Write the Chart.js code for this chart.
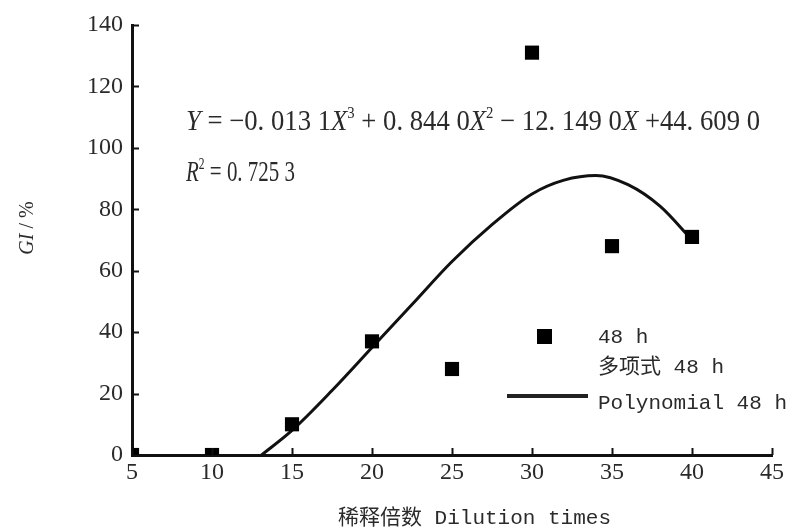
<!DOCTYPE html>
<html><head><meta charset="utf-8">
<script src="https://cdn.jsdelivr.net/npm/chart.js@4.4.0/dist/chart.umd.min.js"></script>
<style>html,body{margin:0;padding:0;background:#fff}#wrap{width:792px;height:531px;position:relative}</style>
</head><body><div id="wrap"><canvas id="c"></canvas></div>
<script>
// ---- data ----
const dilution = [5, 10, 15, 20, 25, 30, 35, 40];
const gi48 = [0, 0, 10, 37, 28, 131, 68, 71];
// fitted polynomial curve
const fitX = [13.1, 15, 17.5, 20, 22.5, 25, 27.5, 30, 32, 34, 36, 38, 40];
const fitY = [0, 8, 21, 35, 49, 63, 75, 85, 89.5, 91, 88, 81, 70];
const xTicks = [5, 10, 15, 20, 25, 30, 35, 40, 45];
const yTicks = [0, 20, 40, 60, 80, 100, 120, 140];
const xTitle = '稀释倍数 Dilution times';
const yTitleParts = [{t:'GI', it:true}, {t:' / %'}];
const legendPointLabel = '48 h';
const legendFitLabels = ['多项式 48 h', 'Polynomial 48 h'];
const eqLine = [{t:'Y',it:true},{t:' = −0. 013 1'},{t:'X',it:true},{t:'3',sup:true},{t:' + 0. 844 0'},{t:'X',it:true},{t:'2',sup:true},{t:' − 12. 149 0'},{t:'X',it:true},{t:' +44. 609 0'}];
const r2Line = [{t:'R',it:true},{t:'2',sup:true},{t:' = 0. 725 3'}];

const TXT = '#2a2a2a';
const SERIF = '"Liberation Serif", "DejaVu Serif", serif';
const MONO = '"Liberation Mono", "Noto Sans CJK SC", monospace';

function segFont(s, size) {
  const sz = s.sup ? Math.round(size * 0.55) : size;
  return (s.it ? 'italic ' : '') + sz + 'px ' + SERIF;
}
function drawSegs(ctx, segs, x, base, targetW, size) {
  let total = 0;
  segs.forEach(s => { ctx.font = segFont(s, size); total += ctx.measureText(s.t).width; });
  const sx = targetW / total;
  ctx.save();
  ctx.translate(x, base);
  ctx.scale(sx, 1);
  ctx.fillStyle = TXT;
  ctx.textBaseline = 'alphabetic';
  ctx.textAlign = 'left';
  let cx = 0;
  segs.forEach(s => {
    ctx.font = segFont(s, size);
    ctx.fillText(s.t, cx, s.sup ? -size * 0.4 : 0);
    cx += ctx.measureText(s.t).width;
  });
  ctx.restore();
}

const decor = {
  id: 'decor',
  afterDraw(chart) {
    const ctx = chart.ctx;
    const xs = chart.scales.x, ys = chart.scales.y;
    const L = chart.chartArea.left, B = chart.chartArea.bottom;
    ctx.save();
    ctx.strokeStyle = '#111';
    ctx.lineWidth = 2;
    // inward ticks
    yTicks.forEach(v => {
      const y = Math.round(ys.getPixelForValue(v)) + 0.5;
      ctx.beginPath(); ctx.moveTo(L, y); ctx.lineTo(L + 7, y); ctx.stroke();
    });
    xTicks.forEach(v => {
      const x = Math.round(xs.getPixelForValue(v)) + 0.5;
      ctx.beginPath(); ctx.moveTo(x, B); ctx.lineTo(x, B - 7); ctx.stroke();
    });
    ctx.restore();

    // equation & R2
    drawSegs(ctx, eqLine, 186, 130, 574, 29);
    drawSegs(ctx, r2Line, 186, 181, 109, 29);

    // legend
    ctx.save();
    ctx.fillStyle = '#000';
    ctx.fillRect(537, 329, 15, 15);
    ctx.strokeStyle = '#222';
    ctx.lineWidth = 4;
    ctx.beginPath(); ctx.moveTo(507, 396); ctx.lineTo(588, 396); ctx.stroke();
    ctx.fillStyle = TXT;
    ctx.font = '21px ' + MONO;
    ctx.textBaseline = 'middle';
    ctx.textAlign = 'left';
    ctx.fillText(legendPointLabel, 598, 337);
    ctx.fillText(legendFitLabels[0], 598, 367);
    ctx.fillText(legendFitLabels[1], 598, 403);

    // x title
    ctx.font = '21px ' + MONO;
    ctx.textAlign = 'left';
    ctx.fillText(xTitle, 338, 518);

    // y title (rotated)
    ctx.translate(28, 228);
    ctx.rotate(-Math.PI / 2);
    ctx.textAlign = 'left';
    let tw = 0;
    yTitleParts.forEach(p => { ctx.font = (p.it ? 'italic ' : '') + '20px ' + SERIF; tw += ctx.measureText(p.t).width; });
    let cx = -tw / 2;
    yTitleParts.forEach(p => { ctx.font = (p.it ? 'italic ' : '') + '20px ' + SERIF; ctx.fillText(p.t, cx, 0); cx += ctx.measureText(p.t).width; });
    ctx.restore();
  }
};

new Chart(document.getElementById('c'), {
  type: 'scatter',
  data: {
    datasets: [
      {
        label: legendPointLabel,
        data: dilution.map((x, i) => ({x, y: gi48[i]})),
        pointStyle: 'rect',
        pointRadius: 10,
        pointHoverRadius: 10,
        backgroundColor: '#000',
        borderColor: '#000',
        borderWidth: 0,
        showLine: false,
        order: 1
      },
      {
        label: legendFitLabels.join(' '),
        data: fitX.map((x, i) => ({x, y: fitY[i]})),
        showLine: true,
        pointRadius: 0,
        borderColor: '#111',
        borderWidth: 3,
        tension: 0.4,
        cubicInterpolationMode: 'monotone',
        order: 2
      }
    ]
  },
  options: {
    responsive: true,
    maintainAspectRatio: false,
    animation: false,
    events: [],
    layout: { padding: { top: 25, right: 20, left: 0, bottom: 0 } },
    plugins: { legend: { display: false }, tooltip: { enabled: false } },
    scales: {
      x: {
        type: 'linear', min: 5, max: 45,
        afterBuildTicks: s => { s.ticks = xTicks.map(v => ({value: v})); },
        afterFit: s => { s.height = 76; },
        grid: { display: true, drawOnChartArea: false, drawTicks: false },
        border: { display: true, color: '#111', width: 3 },
        ticks: { color: TXT, font: { family: SERIF, size: 24 }, padding: 3, maxRotation: 0, autoSkip: false }
      },
      y: {
        type: 'linear', min: 0, max: 140,
        afterBuildTicks: s => { s.ticks = yTicks.map(v => ({value: v})); },
        afterFit: s => { s.width = 132; },
        grid: { display: true, drawOnChartArea: false, drawTicks: false },
        border: { display: true, color: '#111', width: 3 },
        ticks: { color: TXT, font: { family: SERIF, size: 24 }, padding: 9, autoSkip: false }
      }
    }
  },
  plugins: [decor]
});
</script>
</body></html>
